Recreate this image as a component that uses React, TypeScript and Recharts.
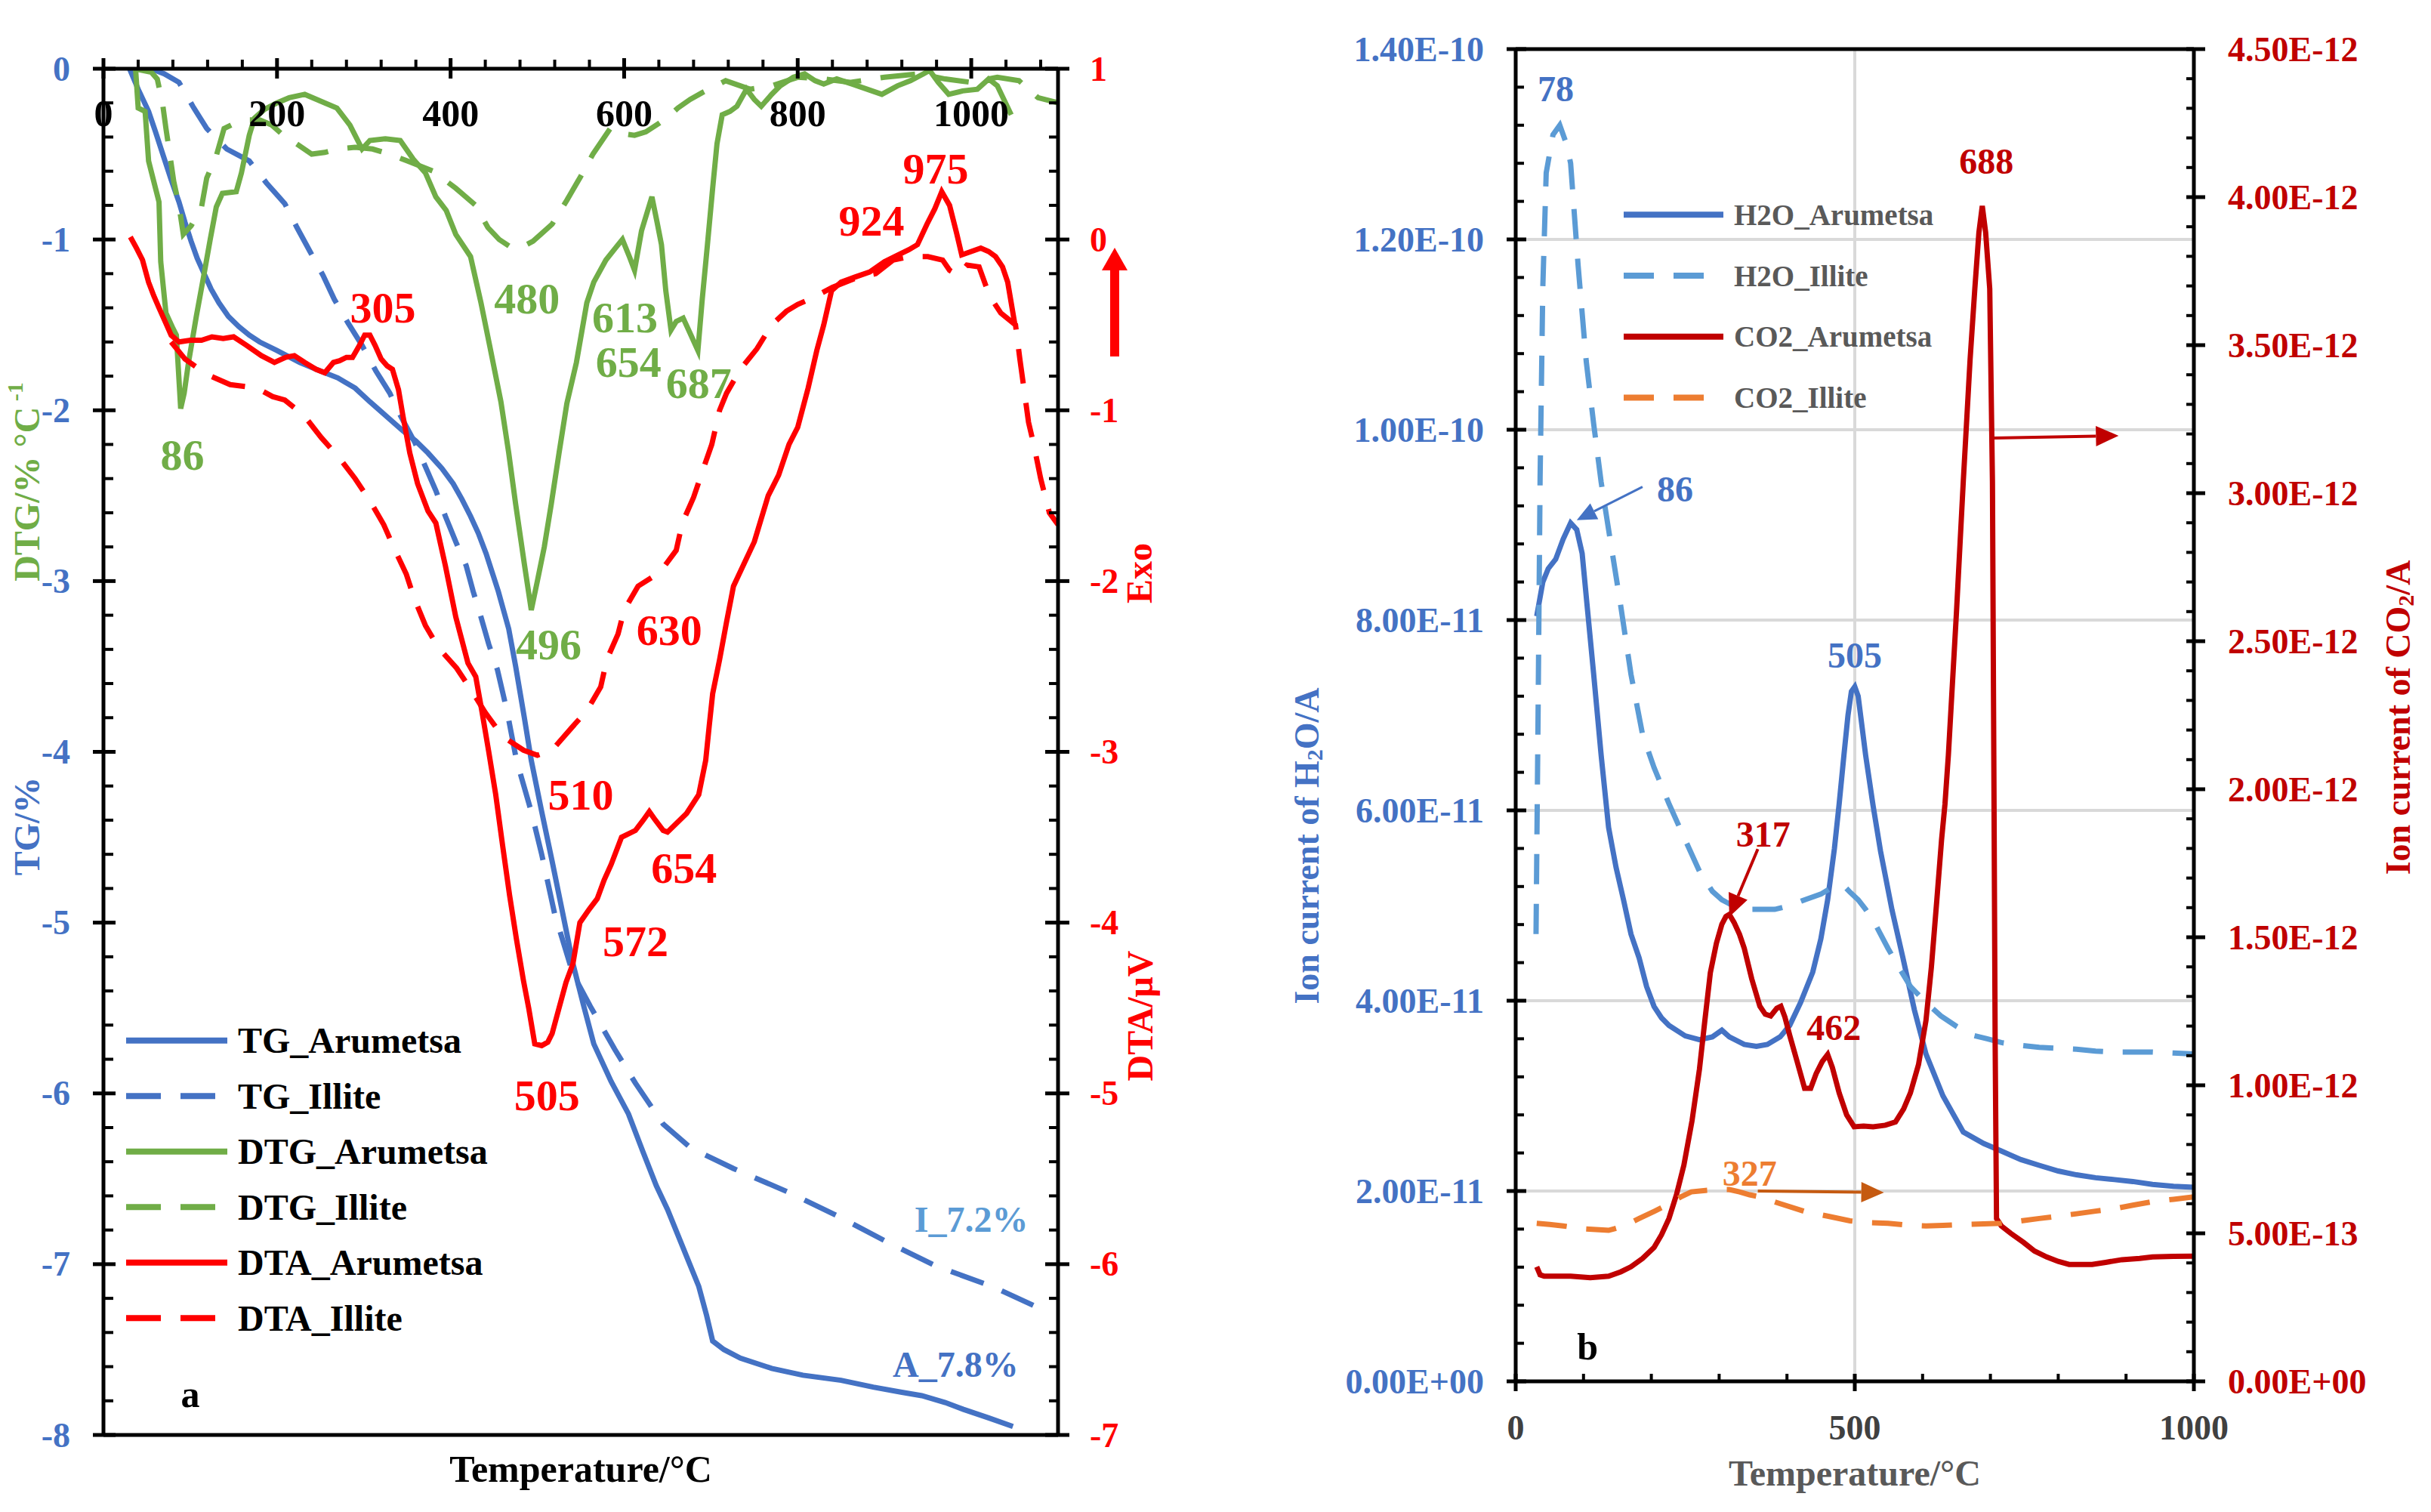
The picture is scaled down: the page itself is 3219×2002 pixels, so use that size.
import React from 'react';
import {
  LineChart,
  Line,
  XAxis,
  YAxis,
  CartesianGrid,
  ReferenceDot,
  ReferenceLine,
  Legend,
} from 'recharts';

type Pt = [number, number];
type Note = { text: string; t: number; v: number };
type Arrow = { t1: number; v1: number; t2: number; v2: number };

const SERIF = '"Liberation Serif", "Times New Roman", serif';

// ---------- panel a : TG / DTG on the left axis, DTA on the right axis ----------
const tgArumetsa: Pt[] = [
  [30, 0], [40, -0.12], [52, -0.25], [60, -0.37], [69, -0.51], [78, -0.65], [87, -0.78], [94, -0.9],
  [101, -1.01], [108, -1.11], [116, -1.2], [124, -1.29], [133, -1.37], [144, -1.45], [156, -1.51],
  [168, -1.56], [180, -1.6], [200, -1.65], [226, -1.72], [250, -1.77], [270, -1.81], [290, -1.87],
  [307, -1.95], [325, -2.03], [345, -2.12], [360, -2.18], [374, -2.25], [390, -2.34], [403, -2.43],
  [413, -2.52], [423, -2.62], [432, -2.72], [441, -2.84], [448, -2.95], [455, -3.06], [461, -3.17],
  [467, -3.28], [475, -3.5], [485, -3.8], [493, -4.05], [505, -4.35], [517, -4.64], [529, -4.94],
  [541, -5.24], [553, -5.48], [565, -5.71], [585, -5.93], [605, -6.12], [620, -6.32], [637, -6.54],
  [650, -6.68], [662, -6.83], [674, -6.98], [686, -7.13], [695, -7.3], [702, -7.45], [715, -7.5],
  [734, -7.55], [770, -7.61], [806, -7.65], [850, -7.68], [887, -7.72], [920, -7.75], [943, -7.77],
  [970, -7.81], [991, -7.85], [1020, -7.9], [1048, -7.95],
];
const tgIllite: Pt[] = [
  [55, 0], [70, -0.03], [87, -0.08], [103, -0.22], [119, -0.35], [142, -0.47], [168, -0.54],
  [188, -0.67], [209, -0.79], [223, -0.93], [238, -1.07], [253, -1.21], [266, -1.35], [282, -1.49],
  [298, -1.62], [314, -1.77], [330, -1.9], [339, -2.0], [359, -2.19], [371, -2.33], [383, -2.47],
  [394, -2.62], [406, -2.77], [418, -2.91], [426, -3.06], [435, -3.21], [444, -3.37], [454, -3.52],
  [465, -3.76], [476, -4.05], [493, -4.35], [505, -4.6], [520, -4.95], [541, -5.3], [561, -5.49],
  [589, -5.74], [613, -5.94], [645, -6.18], [677, -6.32], [726, -6.44], [790, -6.58], [847, -6.72],
  [903, -6.87], [959, -7.01], [1024, -7.13], [1088, -7.28],
];
const dtgArumetsa: Pt[] = [
  [37, 0], [40, -0.23], [48, -0.25], [52, -0.54], [60, -0.7], [64, -0.78], [66, -1.13], [72, -1.43],
  [80, -1.52], [84, -1.56], [89, -1.99], [93, -1.9], [98, -1.72], [107, -1.45], [116, -1.2],
  [123, -1.0], [130, -0.81], [137, -0.73], [153, -0.72], [159, -0.61], [168, -0.39], [174, -0.29],
  [185, -0.24], [200, -0.2], [214, -0.17], [232, -0.15], [255, -0.2], [269, -0.23], [284, -0.33],
  [298, -0.47], [307, -0.42], [325, -0.41], [342, -0.42], [357, -0.53], [371, -0.61], [383, -0.75],
  [395, -0.83], [406, -0.97], [423, -1.1], [435, -1.37], [445, -1.62], [458, -1.95], [467, -2.25],
  [475, -2.55], [485, -2.9], [493, -3.17], [500, -3.0], [508, -2.8], [516, -2.55], [525, -2.25],
  [534, -1.96], [545, -1.72], [557, -1.37], [565, -1.25], [579, -1.12], [590, -1.05], [598, -1.0],
  [606, -1.1], [612, -1.18], [620, -0.95], [632, -0.75], [638, -0.9], [643, -1.03], [648, -1.3],
  [654, -1.53], [660, -1.48], [668, -1.46], [677, -1.56], [685, -1.65], [690, -1.35], [696, -1.03],
  [702, -0.7], [707, -0.44], [713, -0.27], [722, -0.25], [730, -0.22], [741, -0.12], [750, -0.18],
  [758, -0.22], [770, -0.15], [780, -0.1], [795, -0.05], [808, -0.03], [820, -0.07], [830, -0.09],
  [845, -0.06], [863, -0.09], [880, -0.12], [897, -0.15], [915, -0.1], [930, -0.07], [945, -0.03],
  [952, -0.01], [962, -0.08], [974, -0.15], [990, -0.13], [1007, -0.12], [1020, -0.06], [1030, -0.1],
  [1046, -0.27],
];
const dtgIllite: Pt[] = [
  [36, 0], [55, -0.02], [62, -0.06], [68, -0.2], [72, -0.35], [77, -0.52], [81, -0.66], [87, -0.8],
  [92, -0.97], [101, -0.92], [113, -0.81], [119, -0.64], [130, -0.51], [139, -0.35], [155, -0.31],
  [168, -0.3], [180, -0.3], [194, -0.33], [205, -0.38], [217, -0.42], [240, -0.5], [255, -0.49],
  [269, -0.47], [290, -0.46], [310, -0.47], [330, -0.5], [350, -0.54], [380, -0.6], [406, -0.7],
  [429, -0.8], [443, -0.93], [456, -1.0], [468, -1.04], [480, -1.05], [495, -1.01], [506, -0.96],
  [517, -0.91], [534, -0.77], [550, -0.63], [564, -0.5], [584, -0.35], [598, -0.38], [612, -0.39],
  [625, -0.37], [640, -0.32], [651, -0.28], [662, -0.23], [676, -0.18], [690, -0.14], [717, -0.07],
  [745, -0.12], [770, -0.1], [800, -0.05], [830, -0.06], [860, -0.08], [900, -0.05], [940, -0.03],
  [970, -0.06], [1000, -0.08], [1030, -0.05], [1055, -0.07], [1077, -0.17], [1100, -0.2],
];
const dtaArumetsa: Pt[] = [
  [31, 0.015], [38, -0.05], [45, -0.12], [52, -0.25], [58, -0.33], [64, -0.4], [71, -0.48],
  [78, -0.56], [87, -0.6], [100, -0.59], [113, -0.59], [125, -0.57], [138, -0.58], [150, -0.57],
  [165, -0.62], [182, -0.68], [197, -0.72], [210, -0.69], [220, -0.68], [232, -0.72], [245, -0.76],
  [255, -0.78], [265, -0.72], [272, -0.71], [280, -0.69], [287, -0.69], [295, -0.62], [301, -0.56],
  [307, -0.56], [313, -0.62], [320, -0.7], [327, -0.74], [333, -0.76], [340, -0.88], [345, -1.03],
  [353, -1.25], [362, -1.43], [374, -1.59], [383, -1.66], [394, -1.91], [406, -2.21], [420, -2.48],
  [429, -2.56], [436, -2.76], [444, -3.0], [452, -3.25], [460, -3.55], [468, -3.84], [476, -4.1],
  [484, -4.34], [490, -4.5], [497, -4.71], [505, -4.72], [512, -4.7], [517, -4.65], [525, -4.5],
  [533, -4.35], [541, -4.24], [549, -4.0], [560, -3.92], [569, -3.86], [577, -3.75], [585, -3.66],
  [597, -3.5], [613, -3.46], [622, -3.4], [629, -3.35], [636, -3.4], [645, -3.46], [650, -3.47],
  [660, -3.42], [672, -3.36], [686, -3.25], [694, -3.05], [698, -2.85], [702, -2.66], [710, -2.46],
  [718, -2.24], [726, -2.03], [738, -1.9], [750, -1.77], [766, -1.5], [778, -1.38], [790, -1.2],
  [800, -1.1], [812, -0.87], [822, -0.65], [830, -0.5], [839, -0.3], [850, -0.25], [866, -0.22],
  [883, -0.19], [900, -0.13], [916, -0.09], [928, -0.06], [938, -0.03], [949, 0.09], [958, 0.18],
  [966, 0.28], [975, 0.2], [983, 0.04], [989, -0.09], [1000, -0.07], [1011, -0.05], [1020, -0.07],
  [1028, -0.1], [1036, -0.16], [1042, -0.25], [1050, -0.49],
];
const dtaIllite: Pt[] = [
  [78, -0.6], [86, -0.65], [94, -0.7], [119, -0.79], [146, -0.85], [177, -0.87], [195, -0.92],
  [209, -0.94], [231, -1.03], [251, -1.16], [272, -1.28], [290, -1.4], [307, -1.53], [323, -1.67],
  [336, -1.82], [349, -1.96], [358, -2.1], [371, -2.26], [386, -2.39], [407, -2.51], [424, -2.64],
  [440, -2.77], [460, -2.91], [484, -2.99], [500, -3.02], [517, -2.99], [541, -2.85], [557, -2.76],
  [573, -2.62], [580, -2.46], [593, -2.31], [600, -2.17], [616, -2.03], [641, -1.95], [660, -1.82],
  [667, -1.66], [680, -1.51], [690, -1.36], [701, -1.2], [710, -1.0], [718, -0.9], [734, -0.76],
  [753, -0.64], [770, -0.5], [787, -0.42], [800, -0.38], [818, -0.34], [840, -0.28], [870, -0.22],
  [890, -0.2], [910, -0.12], [930, -0.1], [950, -0.1], [967, -0.12], [975, -0.18], [985, -0.21],
  [995, -0.15], [1009, -0.16], [1021, -0.33], [1034, -0.43], [1051, -0.5], [1056, -0.7],
  [1059, -0.81], [1066, -1.07], [1072, -1.2], [1080, -1.4], [1090, -1.6], [1100, -1.67],
];

const legendOrderA = ['TG_Arumetsa', 'TG_Illite', 'DTG_Arumetsa', 'DTG_Illite', 'DTA_Arumetsa', 'DTA_Illite'];

const tempTicksA = Array.from({ length: 28 }, (_, i) => i * 40);
const tempLabelsA = [0, 200, 400, 600, 800, 1000];
const tgTicks = Array.from({ length: 41 }, (_, i) => -(2 * i) / 10);
const tgLabels = [0, -1, -2, -3, -4, -5, -6, -7, -8];
const dtaTicks = Array.from({ length: 41 }, (_, i) => (10 - 2 * i) / 10);
const dtaLabels = [1, 0, -1, -2, -3, -4, -5, -6, -7];

const dtgNotes: Note[] = [
  { text: '86', t: 91, v: -2.26 },
  { text: '480', t: 488, v: -1.345 },
  { text: '613', t: 601, v: -1.455 },
  { text: '654', t: 605, v: -1.72 },
  { text: '687', t: 686, v: -1.84 },
  { text: '496', t: 513, v: -3.37 },
];
const dtaNotes: Note[] = [
  { text: '305', t: 322, v: -0.4 },
  { text: '975', t: 959, v: 0.415 },
  { text: '924', t: 885, v: 0.11 },
  { text: '630', t: 652, v: -2.29 },
  { text: '510', t: 550, v: -3.25 },
  { text: '654', t: 669, v: -3.68 },
  { text: '572', t: 613, v: -4.11 },
  { text: '505', t: 511, v: -5.01 },
];
const lossIllite: Note = { text: 'I_7.2%', t: 1000, v: -6.736 };
const lossArumetsa: Note = { text: 'A_7.8%', t: 982, v: -7.585 };
const tagA: Note = { text: 'a', t: 100, v: -7.76 };

// ---------- panel b : ion currents (H2O in 1e-11 A, CO2 in 1e-13 A) ----------
const h2oArumetsa: Pt[] = [
  [31, 8.04], [40, 8.4], [48, 8.54], [59, 8.64], [70, 8.85], [81, 9.02], [90, 8.95], [98, 8.7],
  [106, 8.1], [115, 7.43], [126, 6.58], [137, 5.82], [148, 5.4], [159, 5.06], [170, 4.7], [182, 4.45],
  [193, 4.15], [204, 3.94], [215, 3.82], [226, 3.74], [250, 3.63], [271, 3.59], [290, 3.62],
  [304, 3.69], [315, 3.62], [337, 3.54], [355, 3.52], [371, 3.54], [390, 3.62], [404, 3.74],
  [420, 3.98], [438, 4.3], [450, 4.65], [460, 5.06], [470, 5.6], [477, 6.07], [484, 6.58], [490, 7.0],
  [495, 7.25], [500, 7.3], [505, 7.2], [510, 6.92], [516, 6.58], [527, 6.05], [538, 5.57], [555, 4.95],
  [571, 4.45], [588, 3.9], [605, 3.44], [630, 3.0], [660, 2.62], [690, 2.5], [716, 2.42], [745, 2.33],
  [772, 2.27], [800, 2.21], [827, 2.17], [855, 2.14], [883, 2.12], [910, 2.1], [939, 2.07],
  [970, 2.05], [1000, 2.04],
];
const h2oIllite: Pt[] = [
  [30, 4.7], [33, 7.0], [36, 9.5], [40, 11.5], [45, 12.7], [55, 13.1], [65, 13.2], [75, 13.0],
  [81, 12.8], [92, 11.73], [104, 10.72], [115, 10.06], [126, 9.45], [137, 8.95], [154, 8.19],
  [170, 7.43], [187, 6.8], [204, 6.45], [226, 6.07], [248, 5.72], [271, 5.36], [290, 5.15],
  [304, 5.06], [320, 5.0], [337, 4.96], [360, 4.96], [382, 4.96], [405, 5.0], [426, 5.06],
  [450, 5.12], [471, 5.21], [485, 5.2], [493, 5.14], [505, 5.06], [516, 4.96], [532, 4.78],
  [549, 4.55], [565, 4.35], [582, 4.15], [605, 3.98], [627, 3.84], [650, 3.73], [672, 3.64],
  [695, 3.6], [716, 3.56], [745, 3.53], [772, 3.51], [800, 3.5], [827, 3.49], [855, 3.47],
  [883, 3.46], [939, 3.46], [970, 3.45], [1000, 3.44],
];
const co2Arumetsa: Pt[] = [
  [31, 3.87], [36, 3.6], [42, 3.55], [60, 3.55], [81, 3.55], [110, 3.5], [137, 3.55], [155, 3.7],
  [170, 3.87], [187, 4.15], [204, 4.52], [215, 4.95], [226, 5.5], [237, 6.3], [248, 7.3], [260, 8.8],
  [271, 10.55], [279, 12.2], [287, 13.8], [296, 14.8], [304, 15.44], [310, 15.7], [315, 15.77],
  [322, 15.5], [330, 15.1], [337, 14.63], [348, 13.6], [360, 12.67], [368, 12.4], [376, 12.34],
  [385, 12.6], [391, 12.67], [397, 12.3], [404, 11.69], [415, 10.8], [426, 9.9], [435, 9.9],
  [443, 10.39], [452, 10.8], [460, 11.04], [467, 10.6], [477, 9.74], [488, 9.0], [499, 8.6],
  [513, 8.62], [527, 8.6], [545, 8.65], [560, 8.76], [572, 9.2], [582, 9.74], [594, 10.7],
  [605, 12.19], [613, 14.0], [621, 16.26], [628, 18.3], [633, 19.5], [638, 21.15], [650, 26.0],
  [660, 30.4], [670, 34.5], [677, 36.9], [683, 38.8], [688, 39.7], [693, 38.8], [699, 36.9],
  [703, 30.4], [705, 21.15], [707, 11.4], [709, 5.5], [716, 5.25], [730, 5.0], [749, 4.69],
  [765, 4.4], [783, 4.2], [800, 4.05], [816, 3.95], [850, 3.95], [870, 4.02], [894, 4.11],
  [920, 4.15], [939, 4.2], [970, 4.22], [1000, 4.23],
];
const co2Illite: Pt[] = [
  [31, 5.34], [50, 5.3], [70, 5.25], [100, 5.15], [137, 5.1], [160, 5.25], [182, 5.5], [205, 5.75],
  [226, 5.99], [245, 6.25], [259, 6.4], [280, 6.45], [300, 6.48], [315, 6.48], [330, 6.4], [345, 6.3],
  [360, 6.23], [390, 6.0], [426, 5.74], [460, 5.58], [493, 5.42], [520, 5.36], [549, 5.34],
  [575, 5.28], [605, 5.25], [630, 5.27], [660, 5.3], [690, 5.32], [716, 5.34], [745, 5.42],
  [772, 5.5], [800, 5.58], [827, 5.66], [855, 5.75], [883, 5.83], [910, 5.95], [939, 6.07],
  [970, 6.15], [1000, 6.23],
];

const legendOrderB = ['H2O_Arumetsa', 'H2O_Illite', 'CO2_Arumetsa', 'CO2_Illite'];

const tempTicksB = Array.from({ length: 11 }, (_, i) => i * 100);
const tempLabelsB = [0, 500, 1000];
const h2oTicks = Array.from({ length: 36 }, (_, i) => (4 * i) / 10);
const h2oLabels = [0, 2, 4, 6, 8, 10, 12, 14];
const co2Ticks = Array.from({ length: 46 }, (_, i) => i);
const co2Labels = [0, 5, 10, 15, 20, 25, 30, 35, 40, 45];

const h2oNotes: Note[] = [
  { text: '78', t: 59, v: 13.58 },
  { text: '86', t: 235, v: 9.38 },
  { text: '505', t: 500, v: 7.63 },
];
const co2Notes: Note[] = [
  { text: '688', t: 694, v: 41.2 },
  { text: '317', t: 365, v: 18.47 },
  { text: '462', t: 469, v: 11.94 },
];
const co2IlliteNote: Note = { text: '327', t: 345, v: 7.04 };
const tagB: Note = { text: 'b', t: 106, v: 0.365 };

const h2oArrows: Arrow[] = [{ t1: 187, v1: 9.4, t2: 90, v2: 9.05 }];
const co2Arrows: Arrow[] = [
  { t1: 357, v1: 17.98, t2: 315, v2: 15.69 },
  { t1: 705, v1: 31.86, t2: 889, v2: 31.94 },
];
const co2IlliteArrows: Arrow[] = [{ t1: 357, v1: 6.43, t2: 543, v2: 6.38 }];

// ---------- helpers ----------
const rows = (pts: Pt[]) => pts.map(([t, v]) => ({ t, v }));

const sci = (v: number) => {
  if (Math.abs(v) < 1e-30) return '0.00E+00';
  const [m, e] = v.toExponential(2).split('e');
  const n = parseInt(e, 10);
  return `${m}E${n < 0 ? '-' : '+'}${String(Math.abs(n)).padStart(2, '0')}`;
};

type Side = 'left' | 'right' | 'top' | 'bottom';
type TickOpts = {
  side: Side;
  labels: number[];
  fmt: (v: number) => string;
  color: string;
  size: number;
  gap: number;
  majOut: number;
  majIn: number;
  minOut: number;
  minIn: number;
};

const makeTick = (o: TickOpts) => (props: any) => {
  const { x, y, payload } = props;
  const v = payload.value as number;
  const major = o.labels.some((l) => Math.abs(l - v) < 1e-9);
  const out = major ? o.majOut : o.minOut;
  const inn = major ? o.majIn : o.minIn;
  let ln: any;
  let tx = x;
  let ty = y;
  let anchor: 'start' | 'middle' | 'end' = 'middle';
  if (o.side === 'left') {
    ln = { x1: x - out, x2: x + inn, y1: y, y2: y };
    tx = x - o.gap;
    anchor = 'end';
  } else if (o.side === 'right') {
    ln = { x1: x - inn, x2: x + out, y1: y, y2: y };
    tx = x + o.gap;
    anchor = 'start';
  } else if (o.side === 'top') {
    ln = { x1: x, x2: x, y1: y - out, y2: y + inn };
    ty = y + o.gap;
  } else {
    ln = { x1: x, x2: x, y1: y - inn, y2: y + out };
    ty = y + o.gap;
  }
  return (
    <g>
      <line {...ln} stroke="#000" strokeWidth={major ? 5 : 4} />
      {major && (
        <text
          x={tx}
          y={ty}
          textAnchor={anchor}
          dominantBaseline="central"
          fill={o.color}
          fontSize={o.size}
          fontWeight="bold"
          fontFamily={SERIF}
        >
          {o.fmt(v)}
        </text>
      )}
    </g>
  );
};

const noteLabel = (text: string, color: string, size: number, weight = 'bold') => (p: any) => {
  const vb = p.viewBox || { x: p.x, y: p.y, width: 0, height: 0 };
  return (
    <text
      x={vb.x + (vb.width || 0) / 2}
      y={vb.y + (vb.height || 0) / 2}
      textAnchor="middle"
      dominantBaseline="central"
      fill={color}
      fontSize={size}
      fontWeight={weight}
      fontFamily={SERIF}
    >
      {text}
    </text>
  );
};

const renderNote = (n: Note, key: string, color: string, size: number, xId: string, yId: string) => (
  <ReferenceDot
    key={key}
    x={n.t}
    y={n.v}
    xAxisId={xId}
    yAxisId={yId}
    r={0}
    fill="none"
    stroke="none"
    label={noteLabel(n.text, color, size)}
  />
);

const arrowShape = (color: string, w: number, head: number) => (p: any) => {
  const { x1, y1, x2, y2 } = p;
  const dx = x2 - x1;
  const dy = y2 - y1;
  const len = Math.hypot(dx, dy) || 1;
  const ux = dx / len;
  const uy = dy / len;
  const bx = x2 - ux * head;
  const by = y2 - uy * head;
  const hw = head * 0.45;
  return (
    <g>
      <line x1={x1} y1={y1} x2={bx} y2={by} stroke={color} strokeWidth={w} />
      <polygon
        points={`${x2},${y2} ${bx - uy * hw},${by + ux * hw} ${bx + uy * hw},${by - ux * hw}`}
        fill={color}
      />
    </g>
  );
};

const renderArrow = (a: Arrow, key: string, color: string, w: number, head: number, xId: string, yId: string) => (
  <ReferenceLine
    key={key}
    xAxisId={xId}
    yAxisId={yId}
    segment={[{ x: a.t1, y: a.v1 }, { x: a.t2, y: a.v2 }]}
    ifOverflow="visible"
    shape={arrowShape(color, w, head)}
  />
);

const makeLegend = (order: string[], rowH: number, lineW: number, size: number, color: string, sw: number) =>
  (props: any) => {
    const items = [...(props.payload || [])].sort(
      (a: any, b: any) => order.indexOf(a.value) - order.indexOf(b.value),
    );
    return (
      <svg width={760} height={rowH * items.length + 10} style={{ overflow: 'visible' }}>
        {items.map((it: any, i: number) => {
          const y = rowH / 2 + i * rowH;
          return (
            <g key={it.value}>
              <line
                x1={0}
                x2={lineW}
                y1={y}
                y2={y}
                stroke={it.color}
                strokeWidth={sw}
                strokeDasharray={it.payload?.strokeDasharray}
              />
              <text
                x={lineW + 14}
                y={y}
                dominantBaseline="central"
                fill={color}
                fontSize={size}
                fontWeight="bold"
                fontFamily={SERIF}
              >
                {it.value}
              </text>
            </g>
          );
        })}
      </svg>
    );
  };

const axisStroke = { stroke: '#000', strokeWidth: 5 };

const rotText = (x: number, y: number, color: string, size: number, children: React.ReactNode) => (
  <text
    x={x}
    y={y}
    transform={`rotate(-90, ${x}, ${y})`}
    textAnchor="middle"
    dominantBaseline="central"
    fill={color}
    fontSize={size}
    fontWeight="bold"
    fontFamily={SERIF}
  >
    {children}
  </text>
);

// ---------- panel a ----------
const PanelA = () => (
  <LineChart width={1600} height={2002} margin={{ top: 0, right: 0, bottom: 0, left: 0 }}>
    <XAxis
      xAxisId="top"
      orientation="top"
      type="number"
      dataKey="t"
      domain={[0, 1100]}
      allowDataOverflow
      ticks={tempTicksA}
      interval={0}
      height={91}
      tickSize={0}
      tickMargin={0}
      tickLine={false}
      axisLine={axisStroke}
      tick={makeTick({
        side: 'top', labels: tempLabelsA, fmt: (v) => String(v), color: '#000', size: 50, gap: 59,
        majOut: 14, majIn: 13, minOut: 12, minIn: 0,
      })}
    />
    <XAxis
      xAxisId="bot"
      orientation="bottom"
      type="number"
      dataKey="t"
      domain={[0, 1100]}
      allowDataOverflow
      height={102}
      tick={false}
      tickLine={false}
      axisLine={axisStroke}
      label={(p: any) => {
        const vb = p.viewBox;
        return (
          <text
            x={vb.x + vb.width / 2}
            y={vb.y + 45}
            textAnchor="middle"
            dominantBaseline="central"
            fontSize={50}
            fontWeight="bold"
            fontFamily={SERIF}
            fill="#000"
          >
            Temperature/°C
          </text>
        );
      }}
    />
    <YAxis
      yAxisId="l"
      type="number"
      domain={[-8, 0]}
      allowDataOverflow
      ticks={tgTicks}
      interval={0}
      width={137}
      tickSize={0}
      tickMargin={0}
      tickLine={false}
      axisLine={axisStroke}
      tick={makeTick({
        side: 'left', labels: tgLabels, fmt: (v) => String(Math.round(v)), color: '#4472C4', size: 46,
        gap: 44, majOut: 14, majIn: 16, minOut: 0, minIn: 13,
      })}
      label={(p: any) => {
        const vb = p.viewBox;
        return (
          <g>
            {rotText(vb.x + 35, vb.y + 547, '#70AD47', 48, (
              <>
                DTG/% °C
                <tspan dy={-16} fontSize={30}> -1</tspan>
              </>
            ))}
            {rotText(vb.x + 35, vb.y + 1003, '#4472C4', 48, 'TG/%')}
          </g>
        );
      }}
    />
    <YAxis
      yAxisId="r"
      orientation="right"
      type="number"
      domain={[-7, 1]}
      allowDataOverflow
      ticks={dtaTicks}
      interval={0}
      width={199}
      tickSize={0}
      tickMargin={0}
      tickLine={false}
      axisLine={axisStroke}
      tick={makeTick({
        side: 'right', labels: dtaLabels, fmt: (v) => String(Math.round(v)), color: '#FF0000', size: 46,
        gap: 42, majOut: 15, majIn: 17, minOut: 0, minIn: 12,
      })}
      label={(p: any) => {
        const vb = p.viewBox;
        const ax = vb.x + 75;
        return (
          <g>
            <rect x={ax - 6} y={vb.y + 265} width={12} height={116} fill="#FF0000" />
            <polygon
              points={`${ax},${vb.y + 237} ${ax - 17},${vb.y + 267} ${ax + 17},${vb.y + 267}`}
              fill="#FF0000"
            />
            {rotText(vb.x + 107, vb.y + 668, '#FF0000', 48, 'Exo')}
            {rotText(vb.x + 108, vb.y + 1254, '#FF0000', 48, 'DTA/μV')}
          </g>
        );
      }}
    />
    <Legend
      layout="horizontal"
      align="center"
      verticalAlign="middle"
      wrapperStyle={{ left: 167, top: 1341, width: 760, height: 450 }}
      content={makeLegend(legendOrderA, 73.5, 134, 48, '#000', 8)}
    />
    <Line name="TG_Arumetsa" data={rows(tgArumetsa)} dataKey="v" xAxisId="top" yAxisId="l" stroke="#4472C4"
      strokeWidth={7} dot={false} activeDot={false} isAnimationActive={false} />
    <Line name="TG_Illite" data={rows(tgIllite)} dataKey="v" xAxisId="top" yAxisId="l" stroke="#4472C4"
      strokeWidth={7} strokeDasharray="46 26" dot={false} activeDot={false} isAnimationActive={false} />
    <Line name="DTG_Arumetsa" data={rows(dtgArumetsa)} dataKey="v" xAxisId="top" yAxisId="l" stroke="#70AD47"
      strokeWidth={7} dot={false} activeDot={false} isAnimationActive={false} />
    <Line name="DTG_Illite" data={rows(dtgIllite)} dataKey="v" xAxisId="top" yAxisId="l" stroke="#70AD47"
      strokeWidth={7} strokeDasharray="46 26" dot={false} activeDot={false} isAnimationActive={false} />
    <Line name="DTA_Arumetsa" data={rows(dtaArumetsa)} dataKey="v" xAxisId="bot" yAxisId="r" stroke="#FF0000"
      strokeWidth={7} dot={false} activeDot={false} isAnimationActive={false} />
    <Line name="DTA_Illite" data={rows(dtaIllite)} dataKey="v" xAxisId="bot" yAxisId="r" stroke="#FF0000"
      strokeWidth={7} strokeDasharray="46 26" dot={false} activeDot={false} isAnimationActive={false} />
    {dtgNotes.map((n, i) => renderNote(n, `g${i}`, '#70AD47', 58, 'top', 'l'))}
    {dtaNotes.map((n, i) => renderNote(n, `r${i}`, '#FF0000', 58, 'bot', 'r'))}
    {renderNote(lossIllite, 'li', '#5B9BD5', 48, 'top', 'l')}
    {renderNote(lossArumetsa, 'la', '#4472C4', 48, 'top', 'l')}
    {renderNote(tagA, 'ta', '#000', 50, 'top', 'l')}
  </LineChart>
);

// ---------- panel b ----------
const PanelB = () => (
  <LineChart width={1569} height={2002} margin={{ top: 0, right: 0, bottom: 0, left: 0 }}>
    <CartesianGrid
      xAxisId="bot"
      yAxisId="l"
      stroke="#D9D9D9"
      strokeWidth={4}
      horizontalValues={h2oLabels}
      verticalValues={[500]}
    />
    <XAxis
      xAxisId="top"
      orientation="top"
      type="number"
      dataKey="t"
      domain={[0, 1000]}
      allowDataOverflow
      height={65}
      tick={false}
      tickLine={false}
      axisLine={axisStroke}
    />
    <XAxis
      xAxisId="bot"
      orientation="bottom"
      type="number"
      dataKey="t"
      domain={[0, 1000]}
      allowDataOverflow
      ticks={tempTicksB}
      interval={0}
      height={173}
      tickSize={0}
      tickMargin={0}
      tickLine={false}
      axisLine={axisStroke}
      tick={makeTick({
        side: 'bottom', labels: tempLabelsB, fmt: (v) => String(v), color: '#404040', size: 46, gap: 61,
        majOut: 13, majIn: 10, minOut: 0, minIn: 10,
      })}
      label={(p: any) => {
        const vb = p.viewBox;
        return (
          <text
            x={vb.x + vb.width / 2}
            y={vb.y + 121}
            textAnchor="middle"
            dominantBaseline="central"
            fontSize={48}
            fontWeight="bold"
            fontFamily={SERIF}
            fill="#595959"
          >
            Temperature/°C
          </text>
        );
      }}
    />
    <YAxis
      yAxisId="l"
      type="number"
      domain={[0, 14]}
      allowDataOverflow
      ticks={h2oTicks}
      interval={0}
      width={357}
      tickSize={0}
      tickMargin={0}
      tickLine={false}
      axisLine={axisStroke}
      tick={makeTick({
        side: 'left', labels: h2oLabels, fmt: (v) => sci(v * 1e-11), color: '#4472C4', size: 46, gap: 42,
        majOut: 12, majIn: 14, minOut: 0, minIn: 11,
      })}
      label={(p: any) => {
        const vb = p.viewBox;
        return rotText(vb.x + 80, vb.y + 1055, '#4472C4', 46, (
          <>
            Ion current of  H<tspan dy={10} fontSize={30}>2</tspan>
            <tspan dy={-10}>O/A</tspan>
          </>
        ));
      }}
    />
    <YAxis
      yAxisId="r"
      orientation="right"
      type="number"
      domain={[0, 45]}
      allowDataOverflow
      ticks={co2Ticks}
      interval={0}
      width={314}
      tickSize={0}
      tickMargin={0}
      tickLine={false}
      axisLine={axisStroke}
      tick={makeTick({
        side: 'right', labels: co2Labels, fmt: (v) => sci(v * 1e-13), color: '#C00000', size: 46, gap: 45,
        majOut: 15, majIn: 10, minOut: 0, minIn: 10,
      })}
      label={(p: any) => {
        const vb = p.viewBox;
        return rotText(vb.x + 270, vb.y + 885, '#C00000', 46, (
          <>
            Ion current of CO<tspan dy={10} fontSize={30}>2</tspan>
            <tspan dy={-10}>/A</tspan>
          </>
        ));
      }}
    />
    <Legend
      layout="horizontal"
      align="center"
      verticalAlign="middle"
      wrapperStyle={{ left: 500, top: 244, width: 760, height: 340 }}
      content={makeLegend(legendOrderB, 80.7, 132, 39, '#595959', 8)}
    />
    <Line name="H2O_Arumetsa" data={rows(h2oArumetsa)} dataKey="v" xAxisId="bot" yAxisId="l" stroke="#4472C4"
      strokeWidth={7} dot={false} activeDot={false} isAnimationActive={false} />
    <Line name="H2O_Illite" data={rows(h2oIllite)} dataKey="v" xAxisId="bot" yAxisId="l" stroke="#5B9BD5"
      strokeWidth={7} strokeDasharray="40 26" dot={false} activeDot={false} isAnimationActive={false} />
    <Line name="CO2_Arumetsa" data={rows(co2Arumetsa)} dataKey="v" xAxisId="top" yAxisId="r" stroke="#C00000"
      strokeWidth={7} dot={false} activeDot={false} isAnimationActive={false} />
    <Line name="CO2_Illite" data={rows(co2Illite)} dataKey="v" xAxisId="top" yAxisId="r" stroke="#ED7D31"
      strokeWidth={7} strokeDasharray="40 26" dot={false} activeDot={false} isAnimationActive={false} />
    {h2oArrows.map((a, i) => renderArrow(a, `ha${i}`, '#4472C4', 3, 26, 'bot', 'l'))}
    {co2Arrows.map((a, i) => renderArrow(a, `ca${i}`, '#C00000', 4, 30, 'top', 'r'))}
    {co2IlliteArrows.map((a, i) => renderArrow(a, `oa${i}`, '#C55A11', 4, 30, 'top', 'r'))}
    {h2oNotes.map((n, i) => renderNote(n, `h${i}`, '#4472C4', 48, 'bot', 'l'))}
    {co2Notes.map((n, i) => renderNote(n, `c${i}`, '#C00000', 48, 'top', 'r'))}
    {renderNote(co2IlliteNote, 'ci', '#ED7D31', 48, 'top', 'r')}
    {renderNote(tagB, 'tb', '#000', 50, 'bot', 'l')}
  </LineChart>
);

export default function App() {
  return (
    <div style={{ position: 'absolute', left: 0, top: 0, width: 3219, height: 2002, background: '#fff' }}>
      <div style={{ position: 'absolute', left: 0, top: 0 }}>
        <PanelA />
      </div>
      <div style={{ position: 'absolute', left: 1650, top: 0 }}>
        <PanelB />
      </div>
    </div>
  );
}
